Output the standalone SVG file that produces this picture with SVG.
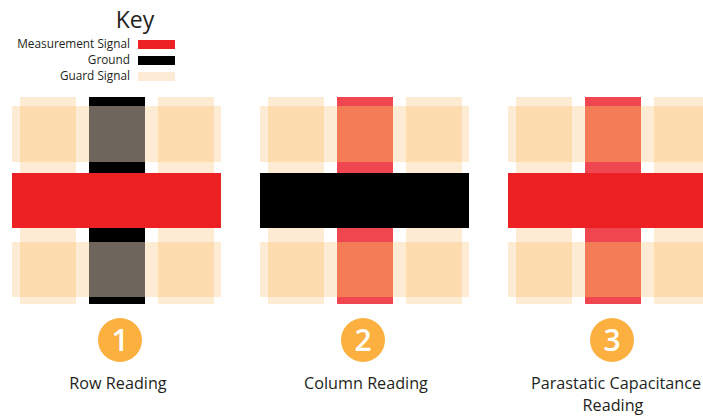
<svg xmlns="http://www.w3.org/2000/svg" width="703" height="417" viewBox="0 0 703 417">
<defs>
<style>
.txt{font-family:"Open Sans","Liberation Sans",sans-serif;fill:#231F20}
.lbl{font-size:16.2px}
.g{fill:#FEEBD4}
.gg{fill:#FDDCB0}
.red{fill:#ED2024}
.blk{fill:#000000}
.rc{fill:#EF4650}
.rcg{fill:#F37B55}
.bc{fill:#6E665C}
.num{font-family:"Open Sans","Liberation Sans",sans-serif;font-weight:600;fill:#FFFFFF;font-size:30px}
.circ{fill:#FBB040}
</style>
<g id="guard">
<rect class="g" x="20" y="97" width="56" height="207"/>
<rect class="g" x="158" y="97" width="56" height="207"/>
<rect class="g" x="12" y="106" width="209" height="56"/>
<rect class="g" x="12" y="242" width="209" height="55"/>
<rect class="gg" x="20" y="106" width="56" height="56"/>
<rect class="gg" x="158" y="106" width="56" height="56"/>
<rect class="gg" x="20" y="242" width="56" height="55"/>
<rect class="gg" x="158" y="242" width="56" height="55"/>
</g>
</defs>
<g id="key">
<text class="txt" x="135" y="28" text-anchor="middle" font-size="23">Key</text>
<text class="txt" x="130" y="48" text-anchor="end" font-size="11.8">Measurement Signal</text>
<text class="txt" x="130" y="64" text-anchor="end" font-size="11.8">Ground</text>
<text class="txt" x="130" y="80" text-anchor="end" font-size="11.8">Guard Signal</text>
<rect class="red" x="138" y="40" width="37" height="9"/>
<rect class="blk" x="138" y="56" width="37" height="9"/>
<rect fill="#FDEBD5" x="138" y="72" width="37" height="9"/>
</g>
<g id="row-reading">
<use href="#guard"/>
<rect class="blk" x="89" y="97" width="56" height="207"/>
<rect class="bc" x="89" y="106" width="56" height="56"/>
<rect class="bc" x="89" y="242" width="56" height="55"/>
<rect class="red" x="12" y="173" width="209" height="55"/>
<circle class="circ" cx="120" cy="340" r="22"/>
<text class="num" x="120" y="351" text-anchor="middle">1</text>
<text class="txt lbl" x="118" y="389" text-anchor="middle">Row Reading</text>
</g>
<g id="column-reading">
<use href="#guard" x="248"/>
<rect class="rc" x="337" y="97" width="56" height="207"/>
<rect class="rcg" x="337" y="106" width="56" height="56"/>
<rect class="rcg" x="337" y="242" width="56" height="55"/>
<rect class="blk" x="260" y="173" width="209" height="55"/>
<circle class="circ" cx="363" cy="340" r="22"/>
<text class="num" x="363" y="351" text-anchor="middle">2</text>
<text class="txt lbl" x="366" y="389" text-anchor="middle">Column Reading</text>
</g>
<g id="parasitic-reading">
<use href="#guard" x="496"/>
<rect class="rc" x="585" y="97" width="56" height="207"/>
<rect class="rcg" x="585" y="106" width="56" height="56"/>
<rect class="rcg" x="585" y="242" width="56" height="55"/>
<rect class="red" x="508" y="173" width="209" height="55"/>
<circle class="circ" cx="612" cy="340" r="22"/>
<text class="num" x="612" y="351" text-anchor="middle">3</text>
<text class="txt lbl" x="616" y="389" text-anchor="middle">Parastatic Capacitance</text>
<text class="txt lbl" x="613" y="411" text-anchor="middle">Reading</text>
</g>
<g id="connectors"/>
</svg>
